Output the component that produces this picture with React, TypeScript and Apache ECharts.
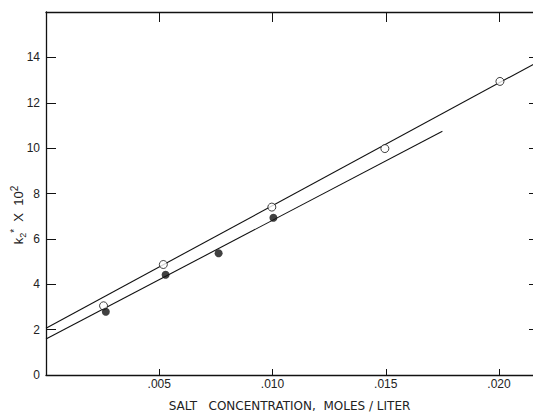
import React, { useEffect, useRef } from "react";
import * as echarts from "echarts";

const openX = [0.00254, 0.00518, 0.00997, 0.01496, 0.02004];
const openY = [3.05, 4.87, 7.4, 9.98, 12.94];
const filledX = [0.00264, 0.00528, 0.00762, 0.01004];
const filledY = [2.79, 4.42, 5.37, 6.93];
const upperLineX = [0, 0.0216];
const upperLineY = [2.06, 13.74];
const lowerLineX = [0, 0.0175];
const lowerLineY = [1.59, 10.74];
const yTicks = [0, 2, 4, 6, 8, 10, 12, 14];
const xTickLabels = [".005", ".010", ".015", ".020"];

const zip = (xs: number[], ys: number[]) => xs.map((x, i) => [x, ys[i]]);

export default function App() {
  const ref = useRef<HTMLDivElement>(null);
  useEffect(() => {
    if (!ref.current) return;
    const chart = echarts.init(ref.current, null, { renderer: "svg" });
    const ink = "#111";
    const font = "Liberation Sans";
    const xFmt = (v: number) => {
      const i = Math.round(v / 0.005);
      if (Math.abs(v - i * 0.005) > 1e-7) return "";
      return i >= 1 && i <= xTickLabels.length ? xTickLabels[i - 1] : "";
    };
    const yFmt = (v: number) =>
      Math.abs(v - Math.round(v)) < 1e-7 && yTicks.includes(Math.round(v)) ? String(Math.round(v)) : "";
    chart.setOption({
      animation: false,
      backgroundColor: "#fff",
      grid: { left: 46, right: 0, top: 12, bottom: 42, outerBoundsMode: "none", containLabel: false },
      xAxis: [
        {
          type: "value",
          min: 0,
          max: 0.0215,
          interval: 0.005,
          position: "bottom",
          axisLine: { show: true, onZero: false, lineStyle: { color: ink, width: 1.3 } },
          axisTick: { show: true, inside: true, length: 6, lineStyle: { color: ink } },
          axisLabel: { formatter: xFmt, color: "#222", fontFamily: font, fontSize: 12, margin: 3, showMaxLabel: false },
          splitLine: { show: false },
          name: "SALT   CONCENTRATION,  MOLES / LITER",
          nameLocation: "middle",
          nameGap: 25,
          nameTextStyle: { color: "#222", fontFamily: "DejaVu Sans", fontSize: 12 },
        },
        {
          type: "value",
          min: 0,
          max: 0.0215,
          interval: 0.005,
          position: "top",
          axisLine: { show: true, onZero: false, lineStyle: { color: ink, width: 1.3 } },
          axisTick: { show: true, inside: true, length: 10, lineStyle: { color: ink } },
          axisLabel: { show: false },
          splitLine: { show: false },
        },
      ],
      yAxis: [
        {
          type: "value",
          min: 0,
          max: 16,
          interval: 2,
          position: "left",
          axisLine: { show: true, onZero: false, lineStyle: { color: ink, width: 1.3 } },
          axisTick: { show: true, inside: true, length: 10, lineStyle: { color: ink } },
          axisLabel: { formatter: yFmt, color: "#222", fontFamily: font, fontSize: 12, margin: 6 },
          splitLine: { show: false },
        },
        {
          type: "value",
          min: 0,
          max: 16,
          interval: 2,
          position: "right",
          axisLine: { show: true, onZero: false, lineStyle: { color: ink } },
          axisTick: { show: true, inside: true, length: 4, lineStyle: { color: ink } },
          axisLabel: { show: false },
          splitLine: { show: false },
        },
      ],
      graphic: [
        {
          type: "text",
          x: 18,
          y: 215,
          rotation: Math.PI / 2,
          style: {
            text: "{k|k}{sub|2}{sup|*}{k|  X  10}{sup|2}",
            align: "center",
            verticalAlign: "middle",
            fill: "#222",
            rich: {
              k: { fontFamily: font, fontSize: 13, lineHeight: 18, verticalAlign: "middle", fill: "#222" },
              sub: { fontFamily: font, fontSize: 9, lineHeight: 18, verticalAlign: "bottom", fill: "#222" },
              sup: { fontFamily: font, fontSize: 10, lineHeight: 18, verticalAlign: "top", fill: "#222" },
            },
          },
        },
      ],
      series: [
        {
          type: "line",
          data: zip(upperLineX, upperLineY),
          showSymbol: false,
          symbol: "none",
          lineStyle: { color: ink, width: 1.1 },
          z: 2,
        },
        {
          type: "line",
          data: zip(lowerLineX, lowerLineY),
          showSymbol: false,
          symbol: "none",
          lineStyle: { color: ink, width: 1.1 },
          z: 2,
        },
        {
          type: "scatter",
          data: zip(openX, openY),
          symbol: "circle",
          symbolSize: 8,
          itemStyle: { color: "#fff", borderColor: ink, borderWidth: 1 },
          z: 3,
        },
        {
          type: "scatter",
          data: zip(filledX, filledY),
          symbol: "circle",
          symbolSize: 8,
          itemStyle: { color: ink },
          z: 3,
        },
      ],
    });
    return () => chart.dispose();
  }, []);
  return (
    <div
      ref={ref}
      style={{ position: "fixed", left: 0, top: 0, width: 533, height: 417, background: "#fff" }}
    />
  );
}
